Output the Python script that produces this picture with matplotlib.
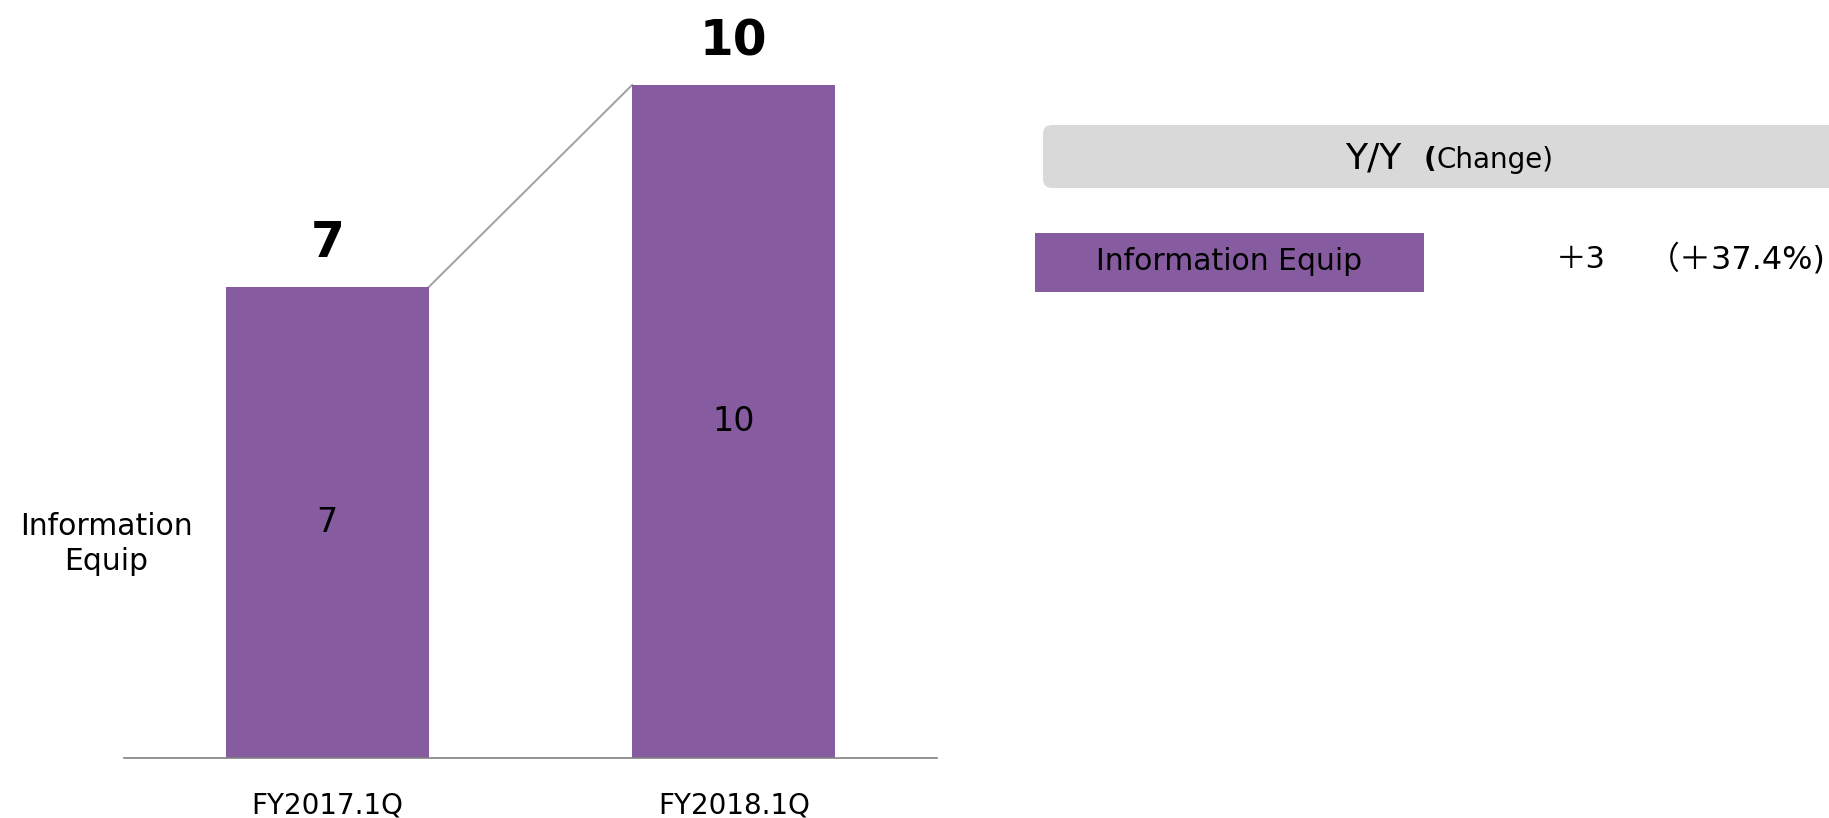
import matplotlib
matplotlib.use("Agg")
import matplotlib.pyplot as plt
from matplotlib.patches import FancyBboxPatch, Rectangle

# Data
periods = ["FY2017.1Q", "FY2018.1Q"]
segment = "Information Equip"
values = [7, 10]
change_abs = "＋3"
change_pct = "（＋37.4%)"

PURPLE = "#875BA0"
W, H = 1829, 818
DPI = 100

plt.rcParams["font.family"] = ["DejaVu Sans", "Noto Sans CJK JP"]

fig = plt.figure(figsize=(W / DPI, H / DPI), dpi=DPI)

# Main bar chart axes (pixel geometry converted to figure fractions)
ax_left, ax_right = 124, 937
ax_bottom_px, ax_top_px = 758, 4
ax = fig.add_axes([ax_left / W, (H - ax_bottom_px) / H,
                   (ax_right - ax_left) / W, (ax_bottom_px - ax_top_px) / H])
ymax = 10 * (ax_bottom_px - ax_top_px) / 673
ax.set_xlim(-0.5, 1.5)
ax.set_ylim(0, ymax)

bar_w = 0.5
xs = list(range(len(values)))
bars = ax.bar(xs, values, width=bar_w, color=PURPLE, zorder=2)

# Connector between the tops of the two bars
ax.plot([xs[0] + bar_w / 2, xs[1] - bar_w / 2], [values[0], values[1]],
        color="#A0A0A0", lw=1.4, zorder=1)

for x, v in zip(xs, values):
    ax.annotate(f"{v}", (x, v), xytext=(0, 14), textcoords="offset points",
                ha="center", va="bottom", fontsize=35, fontweight="bold",
                color="black")
    ax.text(x, v / 2, f"{v}", ha="center", va="center", fontsize=24,
            color="black")

for s in ["top", "right", "left"]:
    ax.spines[s].set_visible(False)
ax.spines["bottom"].set_color("#808080")
ax.spines["bottom"].set_linewidth(1.2)
ax.set_yticks([])
ax.set_xticks(xs)
ax.set_xticklabels(periods, fontsize=20)
ax.tick_params(axis="x", length=0, pad=24)

# Overlay in pixel coordinates for the side annotations
ov = fig.add_axes([0, 0, 1, 1])
ov.set_xlim(0, W)
ov.set_ylim(H, 0)
ov.axis("off")
ov.patch.set_alpha(0)

ov.text(106, 544, "Information\nEquip", ha="center", va="center",
        fontsize=21.5, linespacing=1.3)

# Y/Y header box
ov.add_patch(FancyBboxPatch((1043, 125), 900, 63,
                            boxstyle="round,pad=0,rounding_size=9",
                            facecolor="#D9D9D9", edgecolor="none"))
ov.text(1401, 158, "Y/Y", ha="right", va="center", fontsize=26)
ov.text(1424, 160, "(", ha="left", va="center", fontsize=20,
        fontweight="bold")
ov.text(1436, 160, "Change)", ha="left", va="center", fontsize=20)

# Segment row
ov.add_patch(Rectangle((1035, 233), 389, 59, facecolor=PURPLE,
                       edgecolor="none"))
ov.text(1229, 262, segment, ha="center", va="center", fontsize=21.5)
ov.text(1581, 260, change_abs, ha="center", va="center", fontsize=22)
ov.text(1826, 260, change_pct, ha="right", va="center", fontsize=23)

fig.savefig("out.png", dpi=DPI)
